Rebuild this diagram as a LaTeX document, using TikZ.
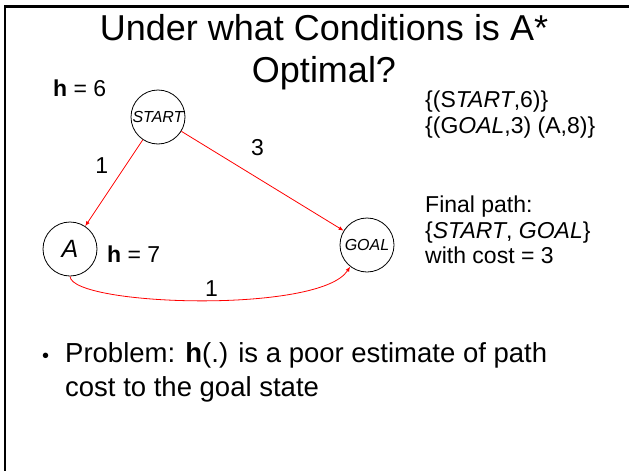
\documentclass[tikz,border=0pt]{standalone}
\usepackage{fontspec}
\setmainfont{Liberation Sans}
\usetikzlibrary{arrows.meta}

\begin{document}
\begin{tikzpicture}[x=1pt,y=1pt,>={Latex[length=5pt,width=4pt]},
 st/.style={draw,circle,line width=.8pt,minimum size=54pt,inner sep=0pt,font=\fontsize{16}{16}\selectfont\itshape},
 e/.style={->,red,line width=.8pt},
 lab/.style={font=\fontsize{23}{25}\selectfont,text=black,inner sep=1pt},
 txt/.style={font=\fontsize{23}{25.5}\selectfont,align=left,anchor=north west,inner sep=0pt}]
\useasboundingbox (0,0) rectangle (629,-471);
\draw[line width=2.4pt] (629,-6.5) -- (5,-6.5) -- (5,-471);
\node[font=\fontsize{36}{42}\selectfont,align=center] (title) at (324,-52) {Under what Conditions is A*\\Optimal?};
% search graph
\node[st] (start) at (158,-117) {START};
\node[st,font=\fontsize{25}{25}\selectfont\itshape] (a) at (70,-249) {A};
\node[st] (goal) at (367,-245) {GOAL};
\node[lab,anchor=west] (h6) at (52,-88) {\textbf{h} = 6};
\node[lab,anchor=west] (h7) at (106,-254) {\textbf{h} = 7};
\draw[e] (start) -- node[lab,left,pos=.3,xshift=-16pt]{1} (a);
\draw[e] (start) -- node[lab,above,pos=.42,xshift=8pt,yshift=16pt]{3} (goal);
\draw[e] (a.south) .. controls (72,-306) and (320,-314) .. node[lab,above,pos=.53,yshift=2pt]{1} (goal.232);
% open list and result
\node[txt] (open) at (425,-91) {\{(S\textit{TART},6)\}\\\{(G\textit{OAL},3) (A,8)\}};
\node[txt] (res) at (425,-196) {Final path:\\\{\textit{START}, \textit{GOAL}\}\\with cost = 3};
\node[font=\fontsize{20}{20}\selectfont,anchor=base west,inner sep=0pt] (bul) at (42,-362) {\textbullet};
\node[font=\fontsize{27.5}{34}\selectfont,align=left,anchor=north west,inner sep=0pt] (prob) at (65,-342) {Problem: \textbf{h}(.) is a poor estimate of path\\cost to the goal state};
\end{tikzpicture}
\end{document}
